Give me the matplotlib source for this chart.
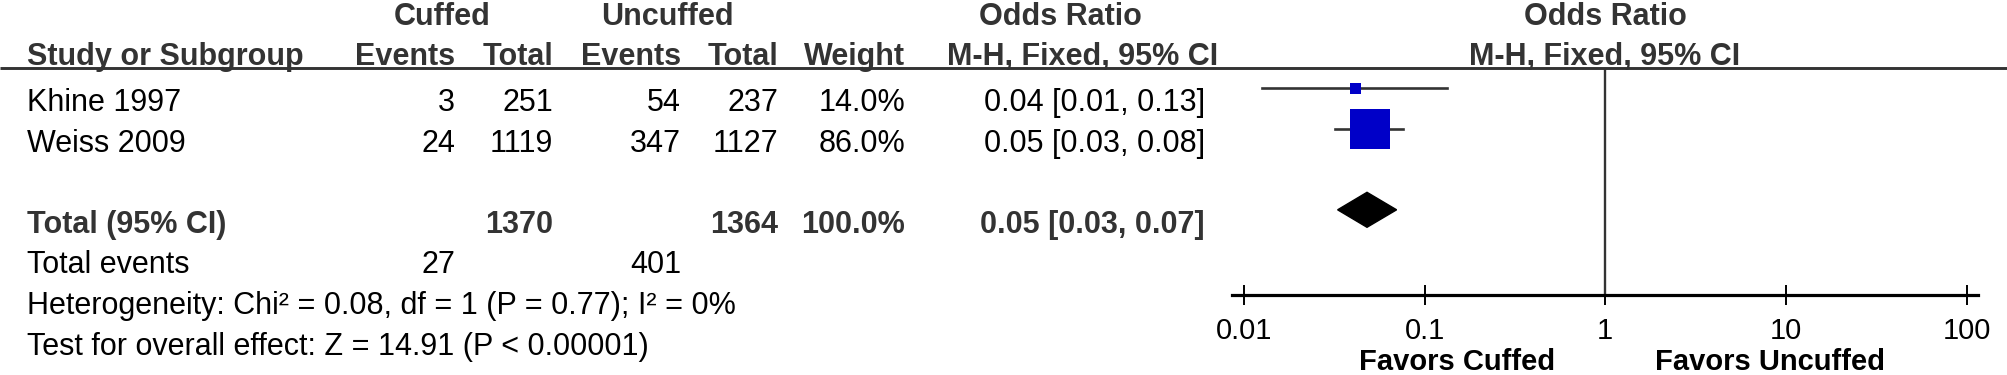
"""
Forest plot: cuffed vs uncuffed tubes (Odds Ratio, M-H fixed).
Tabelle links, Forest-Plot rechts, Pixel-Layout fuer 2008x375.
"""

import matplotlib
matplotlib.use("Agg")
import matplotlib.pyplot as plt
from matplotlib.patches import Polygon

# ── Daten ────────────────────────────────────────────────────────────────────
studies = ["Khine 1997", "Weiss 2009"]
cuffed_events = [3, 24]
cuffed_total = [251, 1119]
uncuffed_events = [54, 347]
uncuffed_total = [237, 1127]
weights = [14.0, 86.0]
or_point = [0.041, 0.050]
or_lo = [0.0126, 0.032]
or_hi = [0.133, 0.076]

pooled_or = 0.048
pooled_lo = 0.033
pooled_hi = 0.070

heterogeneity = "Heterogeneity: Chi\u00b2 = 0.08, df = 1 (P = 0.77); I\u00b2 = 0%"
overall_test = "Test for overall effect: Z = 14.91 (P < 0.00001)"
tick_vals = [0.01, 0.1, 1, 10, 100]
tick_labels = ["0.01", "0.1", "1", "10", "100"]
favors = ["Favors Cuffed", "Favors Uncuffed"]

# ── Layout (Pixel) ───────────────────────────────────────────────────────────
W, H = 2008, 375
FS = 22          # Tabellentext
FS_AX = 21       # Achsenbeschriftung
HEAD = "#333333"
plt.rcParams["font.family"] = ["Liberation Sans", "DejaVu Sans"]

x_label = 27
x_ev_c, x_tot_c, x_ev_u, x_tot_u, x_w, x_or = 455, 553, 681, 778, 905, 1205
row_base = 111        # Grundlinie erste Studie
pitch = 40.6
mark_shift = 23       # Marker sitzen auf Hoehe der Versalhoehe
box_px = [11, 40]
ax_left, ax_right, ax_top, ax_bottom = 1232, 1978, 68, 295


def fmt_ci(p, lo, hi):
    return f"{p:.2f} [{lo:.2f}, {hi:.2f}]"


fig = plt.figure(figsize=(W / 100, H / 100), dpi=100)
canvas = fig.add_axes([0, 0, 1, 1])
canvas.set_xlim(0, W)
canvas.set_ylim(H, 0)
canvas.axis("off")


def txt(x, y, s, ha="right", bold=False, color="black"):
    canvas.text(x, y, s, ha=ha, va="baseline", fontsize=FS,
                fontweight="bold" if bold else "normal", color=color)


# Kopfzeilen
x_mid = (ax_left + ax_right) / 2
txt(442, 25, "Cuffed", ha="center", bold=True, color=HEAD)
txt(667, 25, "Uncuffed", ha="center", bold=True, color=HEAD)
txt(1060, 25, "Odds Ratio", ha="center", bold=True, color=HEAD)
txt(x_mid, 25, "Odds Ratio", ha="center", bold=True, color=HEAD)
txt(x_label, 65, "Study or Subgroup", ha="left", bold=True, color=HEAD)
for x, s in [(x_ev_c, "Events"), (x_tot_c, "Total"), (x_ev_u, "Events"),
             (x_tot_u, "Total"), (x_w, "Weight")]:
    txt(x, 65, s, bold=True, color=HEAD)
txt(1083, 65, "M-H, Fixed, 95% CI", ha="center", bold=True, color=HEAD)
txt(x_mid, 65, "M-H, Fixed, 95% CI", ha="center", bold=True, color=HEAD)
canvas.plot([0, W], [ax_top, ax_top], color="#333333", lw=2.1, solid_capstyle="butt")

# Studienzeilen
for i, name in enumerate(studies):
    y = row_base + i * pitch
    txt(x_label, y, name, ha="left")
    txt(x_ev_c, y, str(cuffed_events[i]))
    txt(x_tot_c, y, str(cuffed_total[i]))
    txt(x_ev_u, y, str(uncuffed_events[i]))
    txt(x_tot_u, y, str(uncuffed_total[i]))
    txt(x_w, y, f"{weights[i]:.1f}%")
    txt(x_or, y, fmt_ci(or_point[i], or_lo[i], or_hi[i]))

# Gesamtzeile
y_tot = row_base + 3 * pitch
txt(x_label, y_tot, "Total (95% CI)", ha="left", bold=True, color=HEAD)
txt(x_tot_c, y_tot, str(sum(cuffed_total)), bold=True, color=HEAD)
txt(x_tot_u, y_tot, str(sum(uncuffed_total)), bold=True, color=HEAD)
txt(x_w, y_tot, f"{sum(weights):.1f}%", bold=True, color=HEAD)
txt(x_or, y_tot, fmt_ci(pooled_or, pooled_lo, pooled_hi), bold=True, color=HEAD)

y_ev = row_base + 4 * pitch
txt(x_label, y_ev, "Total events", ha="left")
txt(x_ev_c, y_ev, str(sum(cuffed_events)))
txt(x_ev_u, y_ev, str(sum(uncuffed_events)))
txt(x_label, row_base + 5 * pitch, heterogeneity, ha="left")
txt(x_label, row_base + 6 * pitch, overall_test, ha="left")

# ── Forest-Plot ──────────────────────────────────────────────────────────────
ax = fig.add_axes([ax_left / W, 1 - ax_bottom / H,
                   (ax_right - ax_left) / W, (ax_bottom - ax_top) / H])
ax.set_xscale("log")
ax.set_xlim(10 ** -2.066, 10 ** 2.063)
ax.set_ylim(ax_bottom, ax_top)   # y in Pixeln
ax.patch.set_alpha(0)
for s in ["left", "right", "top"]:
    ax.spines[s].set_visible(False)
ax.spines["bottom"].set_linewidth(2.3)
ax.set_yticks([])
ax.set_xticks(tick_vals)
ax.set_xticklabels(tick_labels, fontsize=FS_AX)
ax.minorticks_off()
ax.tick_params(axis="x", direction="inout", length=14, width=1.4, pad=9)
ax.axvline(1, color="#333333", lw=1.7)

for i in range(len(studies)):
    y = row_base + i * pitch - mark_shift
    ax.plot([or_lo[i], or_hi[i]], [y, y], color="#333333", lw=1.9)
    ax.plot(or_point[i], y, marker="s", ms=box_px[i] * 0.72,
            color="#0000C8", mew=0)

yd = y_tot - mark_shift
half = 17.5
ax.add_patch(Polygon([(pooled_lo, yd), (pooled_or, yd - half),
                      (pooled_hi, yd), (pooled_or, yd + half)],
                     closed=True, color="black"))

ax.text(1 / 10 ** (50 / 181), 370, favors[0], ha="right", va="baseline",
        fontsize=FS_AX, fontweight="bold", transform=ax.transData, clip_on=False)
ax.text(10 ** (50 / 181), 370, favors[1], ha="left", va="baseline",
        fontsize=FS_AX, fontweight="bold", transform=ax.transData, clip_on=False)

fig.savefig("out.png", dpi=100)
